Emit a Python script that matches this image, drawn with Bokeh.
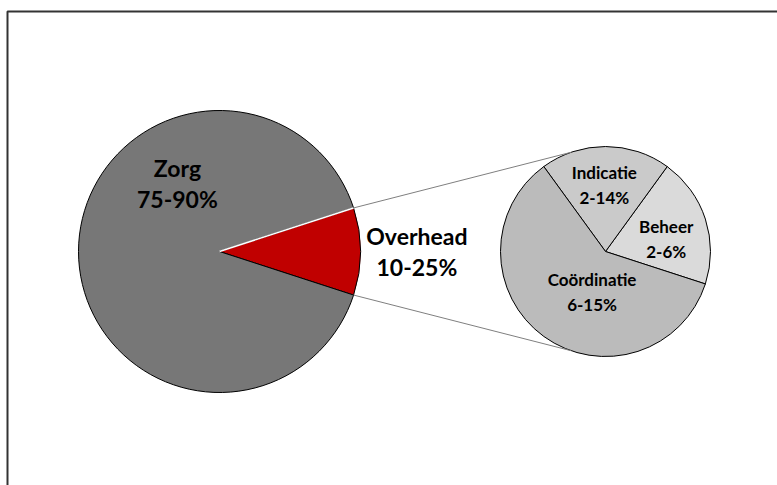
import math
from bokeh.plotting import figure
from bokeh.models import Range1d
from bokeh.core.properties import value
from bokeh.embed import file_html
from bokeh.resources import INLINE

# ---- data ----
main_labels = ["Overhead", "Zorg"]
main_ranges = ["10-25%", "75-90%"]
main_values = [10, 90]
sub_labels = ["Beheer", "Indicatie", "Coördinatie"]
sub_ranges = ["2-6%", "2-14%", "6-15%"]
sub_values = [2, 2, 6]

# ---- styles / layout ----
main_colors = ["#C00000", "#777777"]
sub_colors = ["#DADADA", "#CACACA", "#BBBBBB"]
W, H = 777, 485
OX, OY = 0, 0   # screen position of the figure's top-left corner
# screen->data: x_data = screen_x, y_data = 485 - screen_y
C1 = (219, 485 - 251)
R1 = 141
C2 = (605, 485 - 251)
R2 = 105
main_label_pos = [(0.0, 1.40), (121.9, 0.565)]          # (angle deg, radius fraction)
sub_label_pos = [(11.6, 0.59), (91.0, 0.63), (251.8, 0.41)]
FONT = value("Lato")

p = figure(width=W, height=H, output_backend="svg", toolbar_location=None,
           x_range=Range1d(OX, OX + W), y_range=Range1d(485 - OY - H, 485 - OY),
           min_border=0, outline_line_color=None)
p.axis.visible = False
p.grid.visible = False
p.background_fill_color = "white"
p.border_fill_color = "white"

# frame (extends beyond the window on right and bottom)
p.line([7, 7, 800], [-20, 485 - 11, 485 - 11], line_color="#333333", line_width=2)

# main pie: Overhead centred on 0 deg
tot = sum(main_values)
half = main_values[0] / tot * math.pi
starts, ends = [], []
a = -half
for v in main_values:
    da = v / tot * 2 * math.pi
    starts.append(a)
    ends.append(a + da)
    a += da
p.wedge(x=[C1[0]] * 2, y=[C1[1]] * 2, radius=R1, start_angle=starts, end_angle=ends,
        fill_color=main_colors, line_color="black", line_width=1)
# white edge on upper side of the overhead slice
p.line([C1[0], C1[0] + R1 * math.cos(half)], [C1[1], C1[1] + R1 * math.sin(half)],
       line_color="white", line_width=1.5)

# secondary pie: first slice starts at -half
stot = sum(sub_values)
s_starts, s_ends = [], []
a = -half
for v in sub_values:
    da = v / stot * 2 * math.pi
    s_starts.append(a)
    s_ends.append(a + da)
    a += da
p.wedge(x=[C2[0]] * 3, y=[C2[1]] * 3, radius=R2, start_angle=s_starts, end_angle=s_ends,
        fill_color=sub_colors, line_color="black", line_width=1)

# connector lines
conn_ang = math.radians(109)
for sgn in (1, -1):
    x0 = C1[0] + R1 * math.cos(half)
    y0 = C1[1] + sgn * R1 * math.sin(half)
    x1 = C2[0] + R2 * math.cos(conn_ang)
    y1 = C2[1] + sgn * R2 * math.sin(conn_ang)
    p.line([x0, x1], [y0, y1], line_color="#7F7F7F", line_width=1)

def put_labels(center, R, names, ranges, pos, size, gap):
    xs, ys = [], []
    for ang, fr in pos:
        xs.append(center[0] + fr * R * math.cos(math.radians(ang)))
        ys.append(center[1] + fr * R * math.sin(math.radians(ang)))
    p.text(x=xs, y=[y + gap / 2 for y in ys], text=names, text_font=FONT,
           text_font_style="bold", text_font_size=size, text_align="center",
           text_baseline="middle", text_color="black")
    p.text(x=xs, y=[y - gap / 2 for y in ys], text=ranges, text_font=FONT,
           text_font_style="bold", text_font_size=size, text_align="center",
           text_baseline="middle", text_color="black")

put_labels(C1, R1, main_labels, main_ranges, main_label_pos, "23px", 31)
put_labels(C2, R2, sub_labels, sub_ranges, sub_label_pos, "17px", 25)

open("out.html", "w").write(file_html(p, INLINE))
